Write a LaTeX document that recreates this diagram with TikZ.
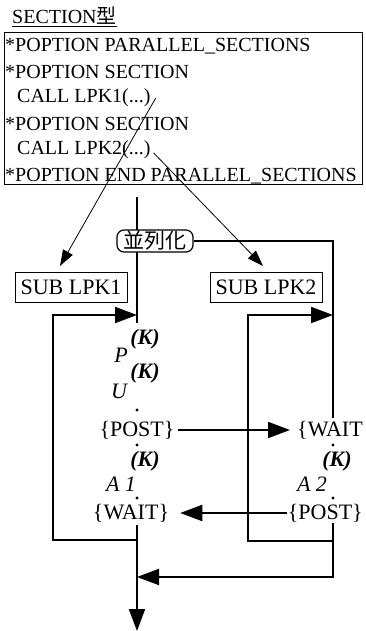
\documentclass[tikz,border=0pt]{standalone}
\usepackage{fontspec}
\setmainfont{Liberation Serif}
\newfontfamily\cjk{Noto Sans CJK JP}
\usetikzlibrary{arrows.meta,positioning,calc}

\begin{document}
\begin{tikzpicture}[
  x=1pt, y=-1pt,
  font=\fontsize{20}{24}\selectfont,
  codeline/.style={anchor=west, inner sep=0pt},
  subbox/.style={draw, line width=0.8pt, inner sep=2pt, minimum width=112pt, minimum height=30pt, font=\fontsize{22}{26}\selectfont},
  flowtext/.style={inner sep=3pt, font=\fontsize{22}{26}\selectfont},
  vartext/.style={inner sep=0pt, font=\fontsize{22}{26}\selectfont\itshape},
  supk/.style={inner sep=0pt, font=\fontsize{22}{26}\selectfont\bfseries\itshape},
  parbox/.style={draw, line width=1.2pt, fill=white, rounded corners=7pt, minimum width=76pt, minimum height=22pt, inner sep=0pt, font=\fontsize{21}{24}\selectfont\cjk},
  thinarrow/.style={line width=0.8pt, -{Triangle[length=16pt,width=11pt]}},
  flow/.style={line width=2pt, -{Triangle[length=22pt,width=16pt]}},
  flowline/.style={line width=2pt}
]
\useasboundingbox (0,0) rectangle (365,631);

% source box
\node[anchor=west, inner sep=0pt] (title) at (12,17) {\underline{SECTION{\cjk 型}}};
\node[draw, line width=0.8pt, minimum width=358pt, minimum height=152pt, inner sep=0pt] (code) at (183,108) {};
\node[codeline] (l1) at (5,46) {*POPTION PARALLEL\_SECTIONS};
\node[codeline] (l2) at (5,72) {*POPTION SECTION};
\node[codeline] (l3) at (17,98) {CALL LPK1(...)};
\node[codeline] (l4) at (5,124) {*POPTION SECTION};
\node[codeline] (l5) at (17,150) {CALL LPK2(...)};
\node[codeline] (l6) at (5,176) {*POPTION END PARALLEL\_SECTIONS};

% subroutines
\node[subbox] (sub1) at (71,287) {SUB LPK1};
\node[subbox] (sub2) at (266,287) {SUB LPK2};
\coordinate (in1) at (60,266);
\coordinate (in2) at (263,266);
\draw[thinarrow] ([xshift=5pt]l3.east) -- (in1);
\draw[thinarrow] ([xshift=3pt,yshift=-3pt]l5.east) -- (in2);

% left column
\coordinate (ctop) at (137,197);
\coordinate (cbot) at (137,323);
\draw[flowline] (ctop) -- (cbot);
\node[parbox] (par) at (155,241) {並列化};
\node[vartext] (p1) at (121,355) {P};
\node[vartext] (u1) at (119,391) {U};
\node[flowtext] (post1) at (137,430) {\{POST\}};
\node[vartext] (a1) at (121,484) {A 1};
\node[flowtext] (wait1) at (131,513) {\{WAIT\}};

% right column
\node[flowtext, anchor=west] (wait2) at (294,430) {\{WAIT};
\node[vartext] (a2) at (312,484) {A 2};
\node[flowtext, anchor=east, inner sep=1pt] (post2) at (364,513) {\{POST\}};

\foreach \x/\y [count=\i] in {145/339, 145/373, 145/461, 337/461}
  \node[supk] (k\i) at (\x,\y) {(K)};
\foreach \p in {(137,410), (137,445), (137,498), (333,445), (333,498)}
  \fill \p circle (1.6pt);

% connectors
\coordinate (la) at (137,315);
\coordinate (lb) at (137,540);
\coordinate (ra) at (333,315);
\coordinate (rb) at (333,541);
\draw[flowline] (par.east) -| (wait2.north -| ra);
\draw[flow, shorten >=4pt] (post1) -- (wait2);
\draw[flow, shorten >=8pt] (post2) -- (wait1);
\draw[flow] (lb) -- ++(-84,0) |- (la);
\draw[flow] (rb) -- ++(-85,0) |- (ra);
\coordinate (merge) at (137,577);
\coordinate (out) at (137,631);
\draw[flow] (post2.south -| ra) |- (merge);
\draw[flow] (wait1.south -| la) -- (out);
\end{tikzpicture}
\end{document}
